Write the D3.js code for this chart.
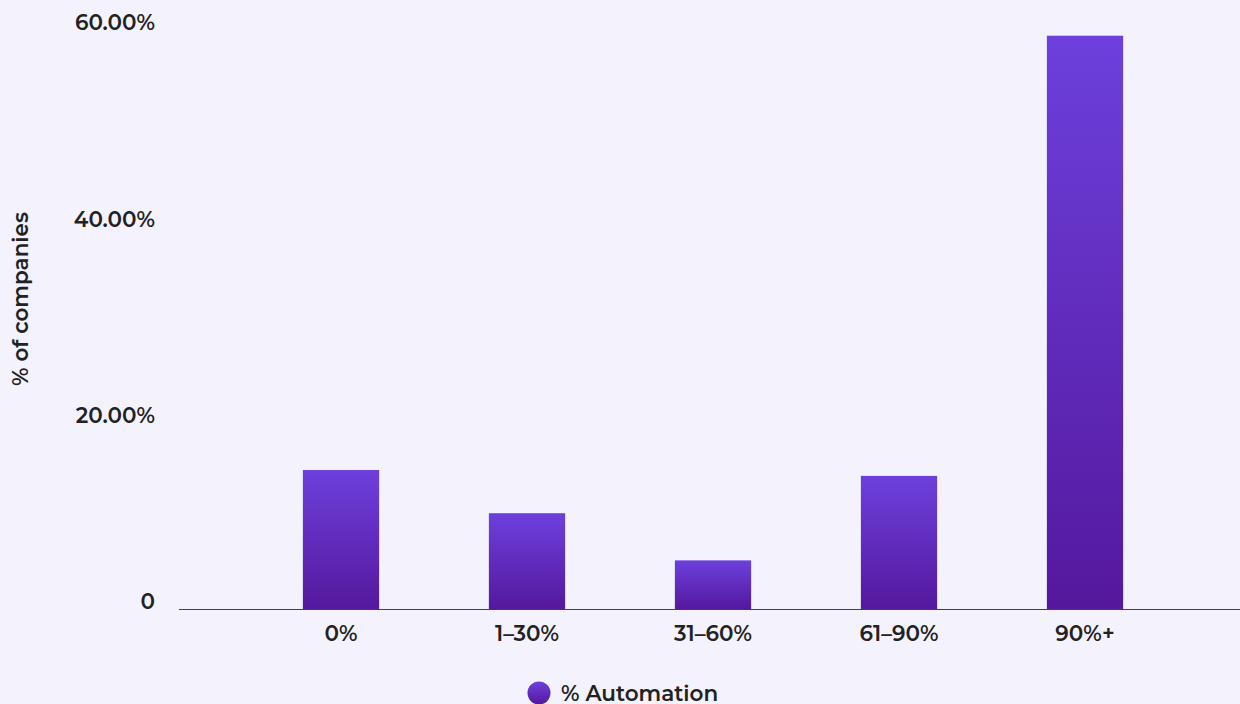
<!DOCTYPE html>
<html>
<head>
<meta charset="utf-8">
<script src="https://cdn.jsdelivr.net/npm/d3@7"></script>
<style>
  html, body { margin: 0; padding: 0; background: #f4f2fd; }
  svg { display: block; }
  text { font-family: "Montserrat", "DejaVu Sans", sans-serif; fill: #222; }
</style>
</head>
<body>
<svg id="chart" width="1240" height="704"></svg>
<script>
// Share of companies by level of automation
const categories = ["0%", "1–30%", "31–60%", "61–90%", "90%+"];
const values = [14.2, 9.8, 5.0, 13.6, 58.4];
const yTicks = [0, 20, 40, 60];
const yTickLabels = ["0", "20.00%", "40.00%", "60.00%"];
const seriesName = "% Automation";
const yTitle = "% of companies";

const svg = d3.select("#chart");
const W = 1240, H = 704;
const FS = 21.5;

const x = d3.scaleBand()
  .domain(categories)
  .range([248, 1178])
  .paddingInner(0.59)
  .paddingOuter(0.295);

const y = d3.scaleLinear().domain([0, 60]).range([609.5, 20]);

// vertical gradient for bars
const defs = svg.append("defs");
function addGrad(id) {
  const g = defs.append("linearGradient")
    .attr("id", id).attr("x1", 0).attr("y1", 0).attr("x2", 0).attr("y2", 1);
  g.append("stop").attr("offset", "0%").attr("stop-color", "#6d40dc");
  g.append("stop").attr("offset", "100%").attr("stop-color", "#54189d");
}
addGrad("barGrad");
addGrad("legGrad");

// bars
svg.append("g").selectAll("rect")
  .data(values)
  .join("rect")
  .attr("x", (d, i) => x(categories[i]))
  .attr("width", x.bandwidth())
  .attr("y", d => y(d))
  .attr("height", d => y(0) - y(d))
  .attr("fill", "url(#barGrad)");

// baseline
svg.append("line")
  .attr("x1", 179).attr("x2", W)
  .attr("y1", y(0)).attr("y2", y(0))
  .attr("stroke", "#45424f").attr("stroke-width", 1.2);

// y tick labels
const yAxis = d3.axisLeft(y)
  .tickValues(yTicks)
  .tickFormat((d, i) => yTickLabels[i])
  .tickSize(0)
  .tickPadding(0);
const gy = svg.append("g").attr("transform", "translate(155,0)").call(yAxis);
gy.select(".domain").remove();
gy.selectAll("text")
  .attr("font-size", FS).attr("font-weight", 600)
  .attr("fill", "#222")
  .attr("dy", d => d === 0 ? "-0.05em" : "0.45em")
  .style("font-family", "'Montserrat','DejaVu Sans',sans-serif");

// x tick labels
const xAxis = d3.axisBottom(x).tickSize(0).tickPadding(0);
const gx = svg.append("g").attr("transform", `translate(0,${y(0)})`).call(xAxis);
gx.select(".domain").remove();
gx.selectAll("text")
  .attr("y", 24).attr("dy", "0.35em")
  .attr("font-size", FS).attr("font-weight", 600)
  .attr("fill", "#222")
  .style("font-family", "'Montserrat','DejaVu Sans',sans-serif");

// y axis title
svg.append("text")
  .attr("transform", "translate(20,299) rotate(-90)")
  .attr("text-anchor", "middle").attr("dy", "0.35em")
  .attr("font-size", FS).attr("font-weight", 600)
  .text(yTitle);

// legend
const leg = svg.append("g").attr("transform", "translate(539,693)");
leg.append("circle").attr("r", 11.5).attr("fill", "url(#legGrad)");
leg.append("text").attr("x", 22).attr("dy", "0.35em")
  .attr("font-size", FS).attr("font-weight", 600)
  .text(seriesName);
</script>
</body>
</html>
